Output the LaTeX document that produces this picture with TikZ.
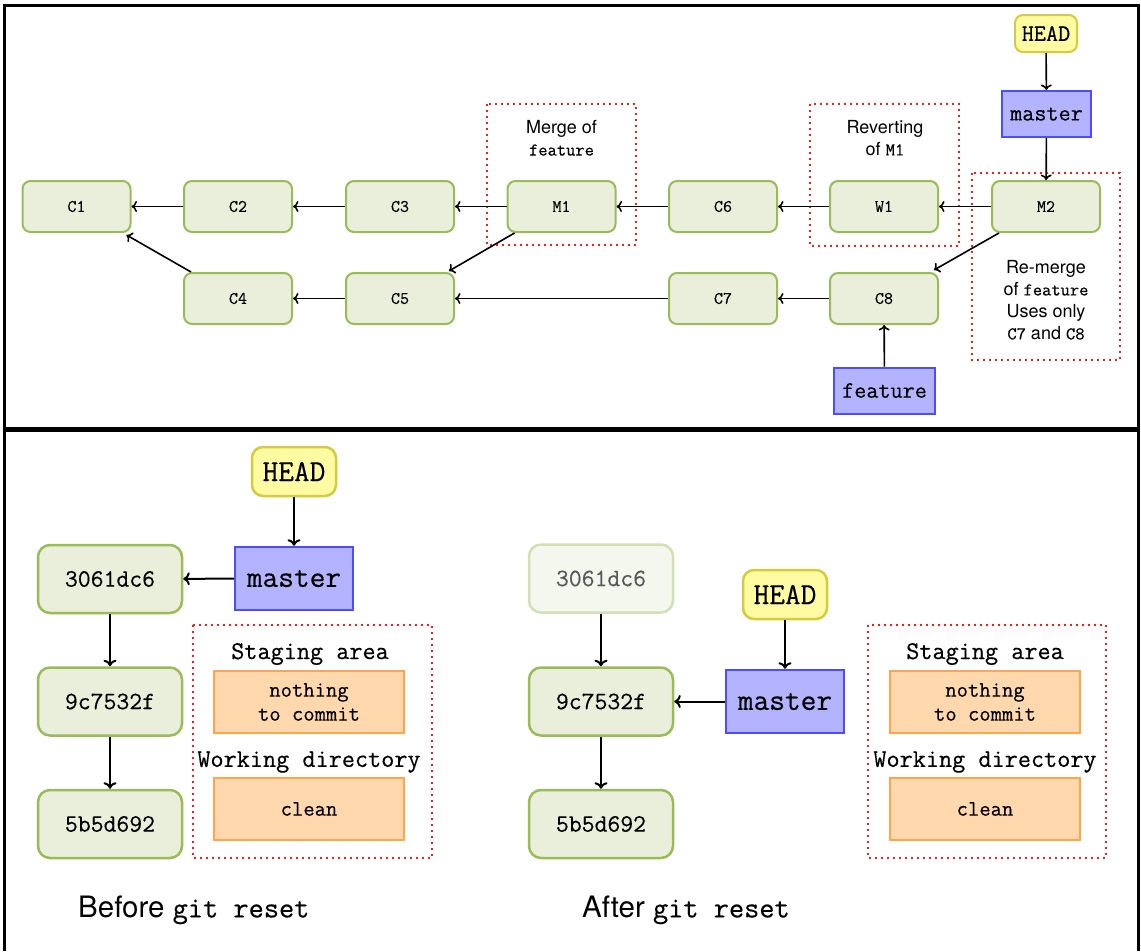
\documentclass[tikz,border=0pt]{standalone}
\usepackage{fontspec}
\setsansfont{TeX Gyre Heros}
\setmonofont[FakeBold=0.4]{Latin Modern Mono}
\usetikzlibrary{arrows.meta}
\definecolor{cfill}{HTML}{E9EFDA}
\definecolor{cdraw}{HTML}{9BBB59}
\definecolor{ffill}{HTML}{F4F7EE}
\definecolor{fdraw}{HTML}{D2DFB6}
\definecolor{hfill}{HTML}{FFFBA3}
\definecolor{hdraw}{HTML}{D6CB3C}
\definecolor{mfill}{HTML}{B3B3FF}
\definecolor{mdraw}{HTML}{4D4DFF}
\definecolor{ofill}{HTML}{FFD8AE}
\definecolor{odraw}{HTML}{FFA64D}
\definecolor{rdot}{HTML}{FF1A1A}
\begin{document}
\begin{tikzpicture}[x=1pt,y=-1pt,
  commit/.style={rectangle,rounded corners=8,draw=cdraw,fill=cfill,line width=2,
    minimum width=108,minimum height=51,inner sep=0,font=\fontsize{17.5}{20}\selectfont\ttfamily},
  headtop/.style={rectangle,rounded corners=8,draw=hdraw,fill=hfill,line width=2,
    minimum width=62,minimum height=37,inner sep=0,font=\fontsize{23.5}{26}\selectfont\ttfamily},
  branchtop/.style={rectangle,draw=mdraw,fill=mfill,line width=2,
    minimum height=46,inner sep=0,font=\fontsize{23.5}{26}\selectfont\ttfamily},
  lbl/.style={align=center,inner sep=0,font=\fontsize{18}{22}\selectfont\sffamily},
  dotbox/.style={draw=rdot,line width=2,dash pattern=on 2pt off 4pt},
  arr/.style={line width=1.6,-{Computer Modern Rightarrow[length=5.5pt,width=11pt]}},
  arrb/.style={line width=2,-{Computer Modern Rightarrow[length=6.5pt,width=13pt]}},
  commitb/.style={rectangle,rounded corners=12,draw=cdraw,fill=cfill,line width=2.5,
    minimum width=144,minimum height=68,inner sep=0,font=\fontsize{25}{28}\selectfont\ttfamily},
  fadedb/.style={commitb,draw=fdraw,fill=ffill,text=black!65},
  headb/.style={rectangle,rounded corners=11,draw=hdraw,fill=hfill,line width=2.5,
    minimum width=84,minimum height=49,inner sep=0,font=\fontsize{30.5}{34}\selectfont\ttfamily},
  branchb/.style={rectangle,draw=mdraw,fill=mfill,line width=2.5,
    minimum width=118,minimum height=63,inner sep=0,font=\fontsize{30.5}{34}\selectfont\ttfamily},
  orange/.style={rectangle,draw=odraw,fill=ofill,line width=2.5,align=center,
    minimum width=190,minimum height=62,inner sep=0,font=\fontsize{22}{24}\selectfont\ttfamily},
  area/.style={inner sep=0,font=\fontsize{25.5}{28}\selectfont\ttfamily},
  caption/.style={inner sep=0,font=\fontsize{29.5}{32}\selectfont\sffamily}
]
\useasboundingbox (0,0) rectangle (1141,951);
% frames
\draw[line width=3] (4.5,5.5) rectangle (1138.5,428);
\draw[line width=3] (4.5,951) -- (4.5,430.5) -- (1138.5,430.5) -- (1138.5,951);

% ===== top panel =====
\draw[dotbox] (487,104) rectangle (636,245);
\draw[dotbox] (810,104) rectangle (959,246);
\draw[dotbox] (972,173) rectangle (1120,360);
\node[lbl] (mergelbl) at (561.5,138) {Merge of\\\texttt{feature}};
\node[lbl] (revlbl) at (885,138) {Reverting\\of \texttt{M1}};
\node[lbl] (remlbl) at (1046,300) {Re-merge\\of \texttt{feature}\\Uses only\\\texttt{C7} and \texttt{C8}};

\node[commit] (C1) at (76.5,206.5) {C1};
\node[commit] (C2) at (238,206.5) {C2};
\node[commit] (C3) at (400,206.5) {C3};
\node[commit] (M1) at (561.5,206.5) {M1};
\node[commit] (C6) at (723,206.5) {C6};
\node[commit] (W1) at (884,206.5) {W1};
\node[commit] (M2) at (1046,206.5) {M2};
\node[commit] (C4) at (238,298.5) {C4};
\node[commit] (C5) at (400,298.5) {C5};
\node[commit] (C7) at (723,298.5) {C7};
\node[commit] (C8) at (884,298.5) {C8};
\node[headtop] (H1) at (1046,33.5) {HEAD};
\node[branchtop,minimum width=89] (ma1) at (1046.5,114) {master};
\node[branchtop,minimum width=101] (fe1) at (884.5,390.5) {feature};

\draw[arr] (C2) -- (C1);
\draw[arr] (C3) -- (C2);
\draw[arr] (M1) -- (C3);
\draw[arr] (C6) -- (M1);
\draw[arr] (W1) -- (C6);
\draw[arr] (M2) -- (W1);
\draw[arr] (C5) -- (C4);
\draw[arr] (C7) -- (C5);
\draw[arr] (C8) -- (C7);
\draw[arr] ([xshift=8pt]C4.north west) -- ([xshift=-5pt,yshift=-2pt]C1.south east);
\draw[arr] ([xshift=8pt]M1.south west) -- ([xshift=-6pt,yshift=1pt]C5.north east);
\draw[arr] ([xshift=8pt]M2.south west) -- ([xshift=-5pt,yshift=2pt]C8.north east);
\draw[arr] (H1) -- (ma1);
\draw[arr] (ma1) -- (M2);
\draw[arr] (fe1) -- (C8);

% ===== bottom left =====
\draw[dotbox] (193,625) rectangle (432,858);
\node[commitb] (b1) at (110,579) {3061dc6};
\node[commitb] (b2) at (110,701.5) {9c7532f};
\node[commitb] (b3) at (110,824) {5b5d692};
\node[headb] (bH) at (294,471.5) {HEAD};
\node[branchb] (bm) at (294,578.5) {master};
\node[area] (bsa) at (310,654) {Staging area};
\node[orange] (bn) at (309,702) {nothing\\to commit};
\node[area] (bwd) at (309,762) {Working directory};
\node[orange] (bc) at (309,809) {clean};
\node[caption,anchor=west] (bcap) at (78,910) {Before \texttt{git reset}};
\draw[arrb] (bH) -- (bm);
\draw[arrb] (bm) -- (b1);
\draw[arrb] (b1) -- (b2);
\draw[arrb] (b2) -- (b3);

% ===== bottom right =====
\draw[dotbox] (868,625) rectangle (1106,858);
\node[fadedb] (a1) at (601,578.5) {3061dc6};
\node[commitb] (a2) at (601,701.5) {9c7532f};
\node[commitb] (a3) at (601,824) {5b5d692};
\node[headb] (aH) at (785,594.5) {HEAD};
\node[branchb] (am) at (785,701.5) {master};
\node[area] (asa) at (985,654) {Staging area};
\node[orange] (an) at (985,702) {nothing\\to commit};
\node[area] (awd) at (985,762) {Working directory};
\node[orange] (ac) at (985,809) {clean};
\node[caption,anchor=west] (acap) at (582,910) {After \texttt{git reset}};
\draw[arrb] (aH) -- (am);
\draw[arrb] (am) -- (a2);
\draw[arrb] (a1) -- (a2);
\draw[arrb] (a2) -- (a3);
\end{tikzpicture}
\end{document}
